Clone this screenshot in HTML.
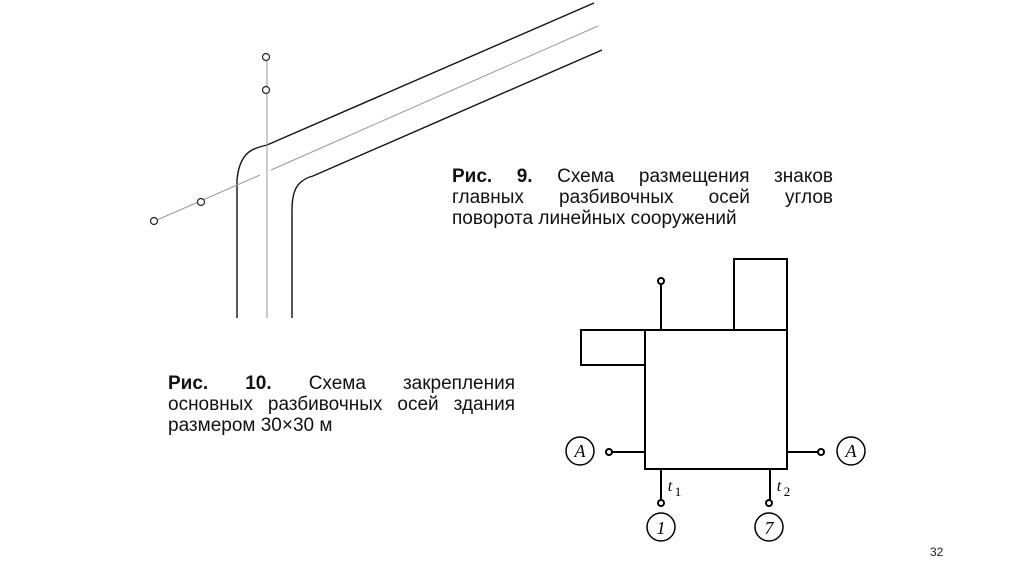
<!DOCTYPE html>
<html><head><meta charset="utf-8"><style>
html,body{margin:0;padding:0;background:#fff;width:1024px;height:574px;overflow:hidden;position:relative}
.t{position:absolute;font-family:"Liberation Sans","DejaVu Sans",sans-serif;font-size:19px;line-height:21px;color:#111;text-align:justify;text-align-last:justify}
.t div{text-align:justify;text-align-last:justify;white-space:nowrap}
.pg{position:absolute;left:930px;top:545px;font-family:"Liberation Sans",sans-serif;font-size:12px;color:#222}
</style></head><body>
<svg width="1024" height="574" style="position:absolute;left:0;top:0" xmlns="http://www.w3.org/2000/svg">
<g fill="none" stroke="#111" stroke-width="1.4">
<path d="M594,3 L267,145 Q258,147 252,150 Q239,157 237,180 L237,318"/>
<path d="M602,50 L313,176 Q304,178 298,185 Q292,193 292,210 L292,318"/>
</g>
<g stroke="#999" stroke-width="1" fill="none">
<line x1="598" y1="26" x2="271" y2="170"/>
<line x1="260" y1="175" x2="157" y2="220"/>
<line x1="267" y1="61" x2="267" y2="86"/>
<line x1="267" y1="94" x2="267" y2="318"/>
</g>
<g stroke="#222" stroke-width="1.2" fill="#fff">
<circle cx="266" cy="57" r="3.5"/><circle cx="266" cy="90" r="3.5"/>
<circle cx="201" cy="202" r="3.5"/><circle cx="154" cy="221" r="3.5"/>
</g>
<g fill="none" stroke="#000" stroke-width="2">
<rect x="645" y="330" width="142" height="139"/>
<rect x="581" y="330" width="64" height="35"/>
<rect x="734" y="259" width="53" height="71"/>
<line x1="661" y1="330" x2="661" y2="284"/>
<line x1="612" y1="452" x2="645" y2="452"/>
<line x1="787" y1="452" x2="818" y2="452"/>
<line x1="661" y1="469" x2="661" y2="500"/>
<line x1="770" y1="469" x2="770" y2="500"/>
</g>
<g fill="#fff" stroke="#000" stroke-width="2">
<circle cx="661" cy="281" r="3"/><circle cx="609" cy="452" r="3"/><circle cx="821" cy="452" r="3"/>
<circle cx="661" cy="503" r="3"/><circle cx="769" cy="503" r="3"/>
</g>
<g fill="none" stroke="#000" stroke-width="1.5">
<ellipse cx="580" cy="451" rx="14" ry="14"/><ellipse cx="851" cy="451" rx="14" ry="14"/>
<ellipse cx="661" cy="527" rx="14" ry="14"/><ellipse cx="769" cy="527" rx="14" ry="14"/>
</g>
<g font-family="Liberation Serif,serif" font-style="italic" font-size="18" fill="#000" text-anchor="middle">
<text x="580" y="457">A</text><text x="851" y="457">A</text>
<text x="661" y="534">1</text><text x="769" y="534">7</text>
<text x="670" y="491" font-size="16">t</text><text x="678" y="496" font-size="13" font-style="normal">1</text>
<text x="779" y="491" font-size="16">t</text><text x="787" y="496" font-size="13" font-style="normal">2</text>
</g>
</svg>
<div class="t" style="left:452px;top:166px;width:381px">
<div><b>Рис. 9.</b> Схема размещения знаков</div>
<div>главных разбивочных осей углов</div>
<div style="text-align-last:left">поворота линейных сооружений</div>
</div>
<div class="t" style="left:168px;top:373px;width:347px">
<div><b>Рис. 10.</b> Схема закрепления</div>
<div>основных разбивочных осей здания</div>
<div style="text-align-last:left">размером 30×30 м</div>
</div>
<div class="pg">32</div>
</body></html>
